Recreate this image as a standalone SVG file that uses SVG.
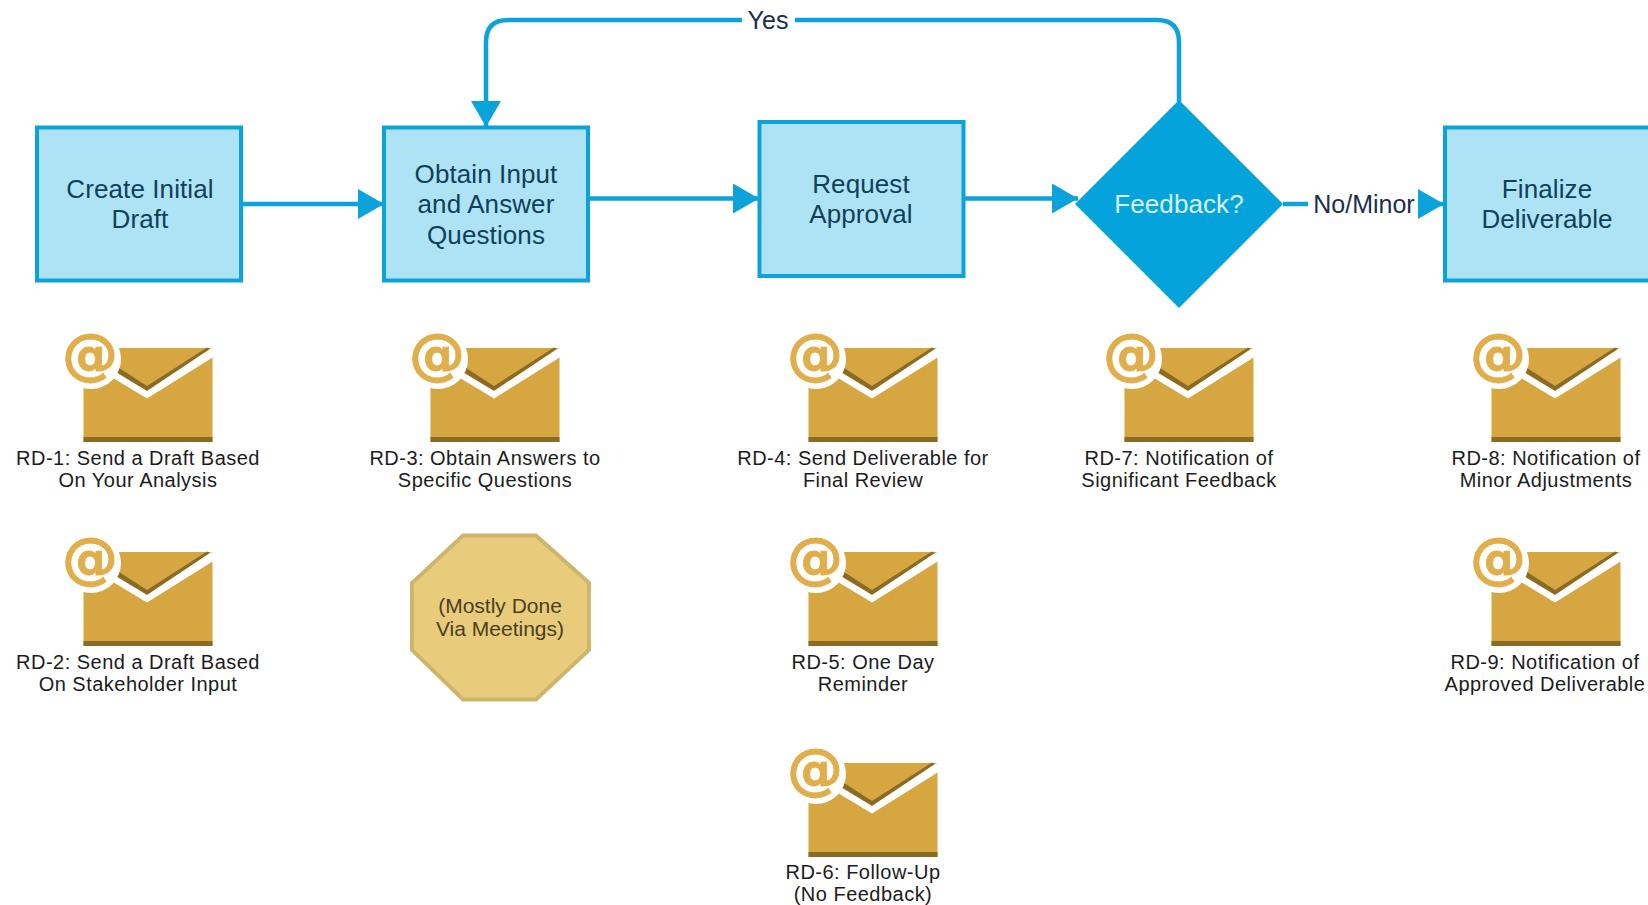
<svg xmlns="http://www.w3.org/2000/svg" xmlns:xlink="http://www.w3.org/1999/xlink" width="1648" height="905" viewBox="0 0 1648 905">
<style>
text{font-family:"Liberation Sans",Arial,sans-serif;text-anchor:middle}
.box{fill:#ADE3F5;stroke:#0CA2DA;stroke-width:4}
.bt{font-size:26px;fill:#123F58;letter-spacing:.1px}
.lb{font-size:20px;fill:#1c1c1c;letter-spacing:.48px}
.cl{font-size:25px;fill:#1B2F4A}
.con{fill:none;stroke:#0CA2DA;stroke-width:4.5}
.oct{font-size:21px;fill:#4a3f20}
.at{font-family:"DejaVu Sans",sans-serif;font-size:56px;font-weight:bold;fill:#E0AE4A;stroke:#E0AE4A;stroke-width:.8}
</style>
<defs>
<marker id="arrow" markerUnits="userSpaceOnUse" markerWidth="28" markerHeight="30" refX="26" refY="15" orient="auto"><path d="M0 0L26 15L0 30Z" fill="#0CA2DA"/></marker>
<g id="mail">
<rect x="33.500" y="28" width="129" height="94" fill="#D6A640"/>
<rect x="33.500" y="117" width="129" height="5" fill="#8A6A25"/>
<path d="M66 46L97 66L157 27.500L160 29L97 71L63 50Z" fill="#8A6A25"/>
<path d="M58 55L62 50L97 71L160 29L165 27V36L97 78.500Z" fill="#fff"/>
<circle cx="41" cy="39" r="30" fill="#fff"/>
<text class="at" x="40" y="53">@</text>
</g>
</defs>
<g id="connectors">
<path class="con" d="M242 204H384" marker-end="url(#arrow)"/>
<path class="con" d="M588 198.500H759" marker-end="url(#arrow)"/>
<path class="con" d="M964 198.500H1078" marker-end="url(#arrow)"/>
<path class="con" d="M1283 204H1308"/>
<path class="con" d="M1418 204H1444" marker-end="url(#arrow)"/>
<path class="con" d="M1179 102V42Q1179 20 1157 20H795"/>
<path class="con" d="M742 20H508Q486 20 486 42V127" marker-end="url(#arrow)"/>
<text class="cl" x="768" y="29">Yes</text>
<text class="cl" x="1364" y="213">No/Minor</text>
</g>
<g id="create"><rect class="box" x="37" y="127.500" width="204" height="153"/><text class="bt" x="140" y="198">Create Initial</text><text class="bt" x="140" y="228">Draft</text></g>
<g id="obtain"><rect class="box" x="384" y="127.500" width="204" height="153"/><text class="bt" x="486" y="183">Obtain Input</text><text class="bt" x="486" y="213">and Answer</text><text class="bt" x="486" y="244">Questions</text></g>
<g id="request"><rect class="box" x="759.500" y="122" width="204" height="154"/><text class="bt" x="861" y="193">Request</text><text class="bt" x="861" y="223">Approval</text></g>
<g id="feedback"><path d="M1179 100L1283 204L1179 308L1075 204Z" fill="#04A3DB"/><text class="bt" style="fill:#D9F3FB" x="1179" y="213">Feedback?</text></g>
<g id="finalize"><rect class="box" x="1445" y="127.500" width="210" height="153"/><text class="bt" x="1547" y="198">Finalize</text><text class="bt" x="1547" y="228">Deliverable</text></g>
<g id="rd1"><use xlink:href="#mail" href="#mail" x="50" y="320"/><text class="lb" x="138" y="465">RD-1: Send a Draft Based</text><text class="lb" x="138" y="487">On Your Analysis</text></g>
<g id="rd2"><use xlink:href="#mail" href="#mail" x="50" y="524"/><text class="lb" x="138" y="669">RD-2: Send a Draft Based</text><text class="lb" x="138" y="691">On Stakeholder Input</text></g>
<g id="rd3"><use xlink:href="#mail" href="#mail" x="397" y="320"/><text class="lb" x="485" y="465">RD-3: Obtain Answers to</text><text class="lb" x="485" y="487">Specific Questions</text></g>
<g id="meetings"><path d="M463 535.500H536L589 583V650L536 699.500H463L412 650V583Z" fill="#E8CC7C" stroke="#CDB56C" stroke-width="4"/><text class="oct" x="500" y="613">(Mostly Done</text><text class="oct" x="500" y="636">Via Meetings)</text></g>
<g id="rd4"><use xlink:href="#mail" href="#mail" x="775" y="320"/><text class="lb" x="863" y="465">RD-4: Send Deliverable for</text><text class="lb" x="863" y="487">Final Review</text></g>
<g id="rd5"><use xlink:href="#mail" href="#mail" x="775" y="524"/><text class="lb" x="863" y="669">RD-5: One Day</text><text class="lb" x="863" y="691">Reminder</text></g>
<g id="rd6"><use xlink:href="#mail" href="#mail" x="775" y="735"/><text class="lb" x="863" y="879">RD-6: Follow-Up</text><text class="lb" x="863" y="901">(No Feedback)</text></g>
<g id="rd7"><use xlink:href="#mail" href="#mail" x="1091" y="320"/><text class="lb" x="1179" y="465">RD-7: Notification of</text><text class="lb" x="1179" y="487">Significant Feedback</text></g>
<g id="rd8"><use xlink:href="#mail" href="#mail" x="1458" y="320"/><text class="lb" x="1546" y="465">RD-8: Notification of</text><text class="lb" x="1546" y="487">Minor Adjustments</text></g>
<g id="rd9"><use xlink:href="#mail" href="#mail" x="1458" y="524"/><text class="lb" x="1545" y="669">RD-9: Notification of</text><text class="lb" x="1545" y="691">Approved Deliverable</text></g>
</svg>
